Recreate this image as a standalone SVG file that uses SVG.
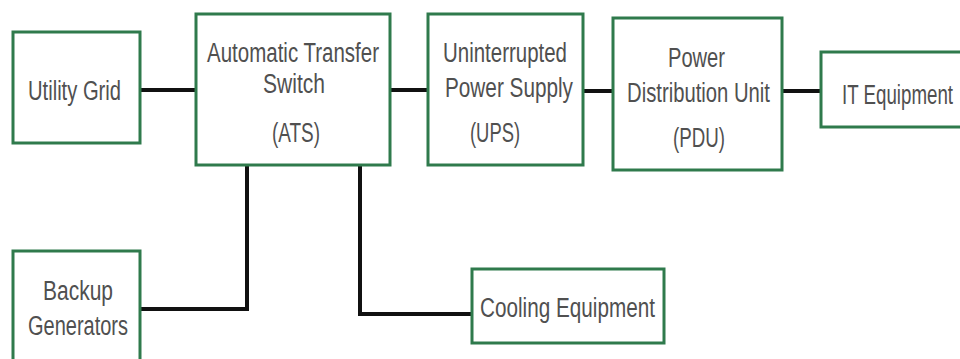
<svg xmlns="http://www.w3.org/2000/svg" width="960" height="359" viewBox="0 0 960 359">
<style>
.box{fill:#fff;stroke:#2f7a4c;stroke-width:3}
.t{font-family:"Liberation Sans","Arial",sans-serif;font-size:27px;fill:#505050;text-anchor:start}
.c{fill:none;stroke:#111;stroke-width:4}
</style>
<rect x="0" y="0" width="960" height="359" fill="#fff"/>
<g id="connectors">
<line class="c" x1="140" y1="90" x2="196" y2="90"/>
<line class="c" x1="390" y1="90" x2="428" y2="90"/>
<line class="c" x1="583" y1="91" x2="613" y2="91"/>
<line class="c" x1="782" y1="91" x2="821" y2="91"/>
<polyline class="c" points="247,165 247,309 140,309"/>
<polyline class="c" points="360,165 360,314 472,314"/>
</g>
<g id="utility-grid">
<rect class="box" x="13" y="32" width="127" height="111"/>
<text class="t" x="28" y="100" textLength="93" lengthAdjust="spacingAndGlyphs">Utility Grid</text>
</g>
<g id="ats">
<rect class="box" x="196" y="14" width="194" height="151"/>
<text class="t" x="207" y="62" textLength="172" lengthAdjust="spacingAndGlyphs">Automatic Transfer</text>
<text class="t" x="263" y="93" textLength="62" lengthAdjust="spacingAndGlyphs">Switch</text>
<text class="t" x="272" y="142" textLength="48" lengthAdjust="spacingAndGlyphs">(ATS)</text>
</g>
<g id="ups">
<rect class="box" x="428" y="14" width="155" height="151"/>
<text class="t" x="443" y="62" textLength="124" lengthAdjust="spacingAndGlyphs">Uninterrupted</text>
<text class="t" x="445" y="97" textLength="128" lengthAdjust="spacingAndGlyphs">Power Supply</text>
<text class="t" x="470" y="142" textLength="50" lengthAdjust="spacingAndGlyphs">(UPS)</text>
</g>
<g id="pdu">
<rect class="box" x="613" y="18" width="169" height="152"/>
<text class="t" x="668" y="67" textLength="57" lengthAdjust="spacingAndGlyphs">Power</text>
<text class="t" x="627" y="102" textLength="143" lengthAdjust="spacingAndGlyphs">Distribution Unit</text>
<text class="t" x="673" y="147" textLength="52" lengthAdjust="spacingAndGlyphs">(PDU)</text>
</g>
<g id="it-equipment">
<rect class="box" x="821" y="52" width="145" height="75"/>
<text class="t" x="842" y="104" textLength="111" lengthAdjust="spacingAndGlyphs">IT Equipment</text>
</g>
<g id="backup-generators">
<rect class="box" x="13" y="251" width="127" height="115"/>
<text class="t" x="43" y="300" textLength="70" lengthAdjust="spacingAndGlyphs">Backup</text>
<text class="t" x="28" y="335" textLength="100" lengthAdjust="spacingAndGlyphs">Generators</text>
</g>
<g id="cooling-equipment">
<rect class="box" x="472" y="269" width="192" height="74"/>
<text class="t" x="480" y="317" textLength="175" lengthAdjust="spacingAndGlyphs">Cooling Equipment</text>
</g>
</svg>
